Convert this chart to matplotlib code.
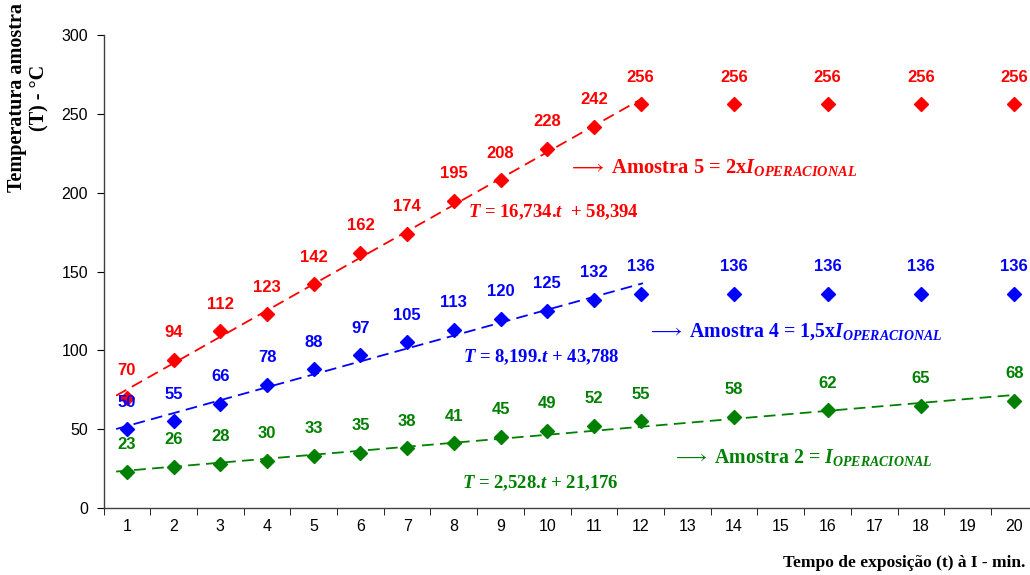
import matplotlib
matplotlib.use("Agg")
import matplotlib.pyplot as plt
import numpy as np

plt.rcParams.update({
    'font.family': 'sans-serif',
    'font.sans-serif': ['Liberation Sans', 'DejaVu Sans'],
    'mathtext.fontset': 'custom',
    'mathtext.rm': 'Liberation Serif:bold',
    'mathtext.it': 'Liberation Serif:italic:bold',
    'mathtext.bf': 'Liberation Serif:bold',
})

# data
tempo = [1, 2, 3, 4, 5, 6, 7, 8, 9, 10, 11, 12, 14, 16, 18, 20]
amostra5 = [70, 94, 112, 123, 142, 162, 174, 195, 208, 228, 242, 256, 256, 256, 256, 256]
amostra4 = [50, 55, 66, 78, 88, 97, 105, 113, 120, 125, 132, 136, 136, 136, 136, 136]
amostra2 = [23, 26, 28, 30, 33, 35, 38, 41, 45, 49, 52, 55, 58, 62, 65, 68]

# trendlines (slope, intercept, x end)
trend5 = (16.734, 58.394, 12.05)
trend4 = (8.199, 43.788, 12.05)
trend2 = (2.528, 21.176, 20.0)

RED = '#FF0000'
BLUE = '#0000FF'
GREEN = '#008000'

fig = plt.figure(figsize=(10.30, 5.75), dpi=100)
ax = fig.add_axes([0.1005, 0.1165, 0.907, 0.8225])

series = [(amostra5, trend5, RED), (amostra4, trend4, BLUE), (amostra2, trend2, GREEN)]
for vals, (a, b, xend), col in series:
    xs = np.array([0.77, xend])
    ax.plot(xs, a * xs + b, color=col, lw=1.3, linestyle=(0, (6.5, 3.5)), zorder=2)
    ax.plot(tempo, vals, linestyle='none', marker='D', ms=6.8, color=col, zorder=3)
    for t, v in zip(tempo, vals):
        ax.annotate(str(v), (t, v), xytext=(0, 19.5), textcoords='offset points',
                    ha='center', va='center', fontsize=12, fontweight='bold',
                    color=col, zorder=4)

ax.set_xlim(0.5, 20.5)
ax.set_ylim(0, 300)
ax.set_yticks(range(0, 301, 50))
ax.set_xticks(range(1, 21))
ax.set_xticks(np.arange(0.5, 21, 1), minor=True)
ax.tick_params(axis='x', which='major', length=0, pad=8, labelsize=11.5)
ax.tick_params(axis='x', which='minor', length=5, direction='out')
ax.tick_params(axis='y', length=5, direction='out', labelsize=11.5, pad=6)
for s in ['top', 'right']:
    ax.spines[s].set_visible(False)
for s in ['left', 'bottom']:
    ax.spines[s].set_color('#404040')
    ax.spines[s].set_linewidth(1.0)

serif = dict(family='Liberation Serif', fontweight='bold')

# series annotations
ax.text(568 / 1030, 1 - 167 / 575, r'$\longrightarrow$ Amostra 5 = 2x$I_{OPERACIONAL}$',
        transform=fig.transFigure, color=RED, fontsize=14.8, va='center', ha='left', **serif)
ax.text(468 / 1030, 1 - 212 / 575, r'$T$ = 16,734.$t$  + 58,394',
        transform=fig.transFigure, color=RED, fontsize=13.5, va='center', ha='left', **serif)

ax.text(647 / 1030, 1 - 332 / 575, r'$\longrightarrow$ Amostra 4 = 1,5x$I_{OPERACIONAL}$',
        transform=fig.transFigure, color=BLUE, fontsize=14.3, va='center', ha='left', **serif)
ax.text(463 / 1030, 1 - 357 / 575, r'$T$ = 8,199.$t$ + 43,788',
        transform=fig.transFigure, color=BLUE, fontsize=13.5, va='center', ha='left', **serif)

ax.text(672 / 1030, 1 - 457 / 575, r'$\longrightarrow$ Amostra 2 = $I_{OPERACIONAL}$',
        transform=fig.transFigure, color=GREEN, fontsize=14.3, va='center', ha='left', **serif)
ax.text(462 / 1030, 1 - 483 / 575, r'$T$ = 2,528.$t$ + 21,176',
        transform=fig.transFigure, color=GREEN, fontsize=13.5, va='center', ha='left', **serif)

# axis titles
fig.text(1025 / 1030, 1 - 563 / 575, 'Tempo de exposição (t) à I - min.',
         ha='right', va='center', fontsize=12.5, **serif)
fig.text(28 / 1030, 1 - 98 / 575, 'Temperatura amostra\n(T) - °C',
         rotation=90, ha='center', va='center', multialignment='center',
         fontsize=14.5, linespacing=1.15, **serif)

fig.savefig('out.png', dpi=100)
